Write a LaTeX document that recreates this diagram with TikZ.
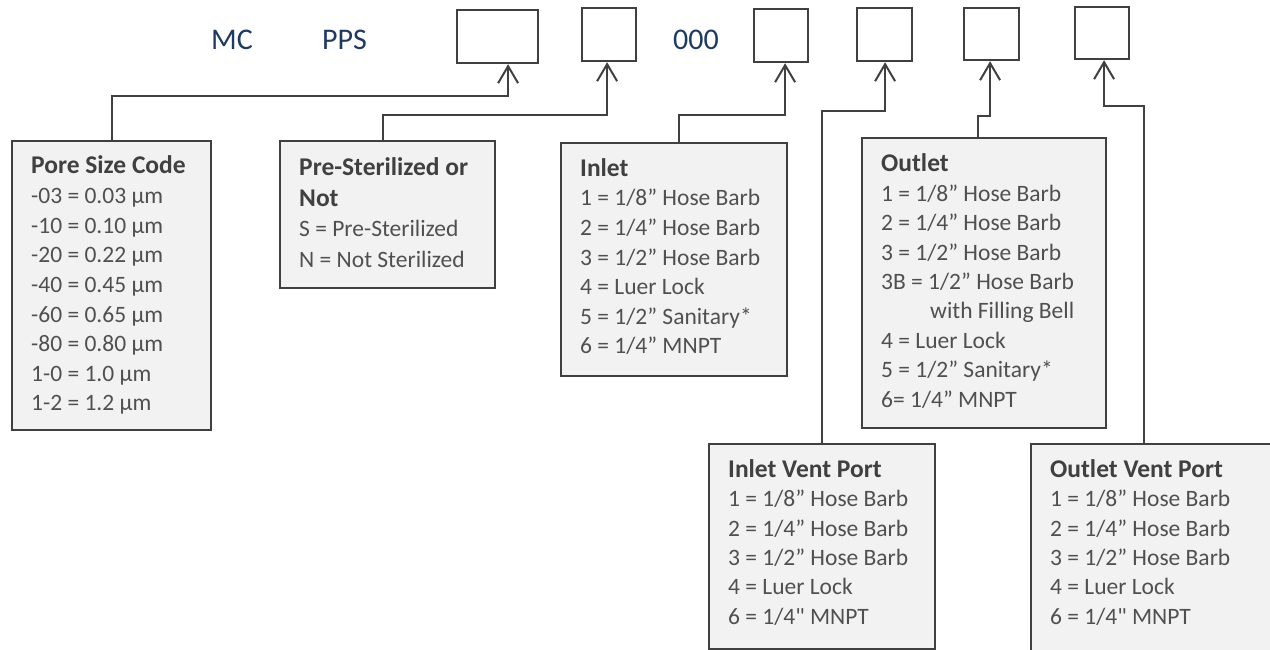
\documentclass[tikz,border=0pt]{standalone}
\usepackage{fontspec}
\setmainfont{Carlito}[Ligatures=TeXOff]
\usetikzlibrary{arrows.meta,calc}
\definecolor{ink}{HTML}{404040}
\definecolor{bodyink}{HTML}{505050}
\definecolor{codeblue}{HTML}{1F3A60}
\definecolor{panel}{HTML}{F2F2F2}

% bold heading line inside a legend
\newcommand\legendhead[1]{{\fontsize{25.5}{30}\selectfont\bfseries\color{ink}#1}}

% #1 box name, #2 first baseline below the top edge, #3 line pitch, #4 lines
\newcommand\legendlines[4]{%
  \foreach \txt [count=\i from 0] in {#4}
    \node[entry] (#1-\i) at ($(#1.north west)+(20,{#2+#3*\i})$) {\txt};}

\begin{document}
\begin{tikzpicture}[x=1pt,y=-1pt,
  slot/.style={draw=ink, line width=2.2pt, fill=white, rectangle, inner sep=0pt, anchor=north west},
  legend/.style={draw=ink, line width=2pt, fill=panel, rectangle, inner sep=0pt, anchor=north west},
  codetext/.style={text=codeblue, font=\fontsize{30}{36}\selectfont, inner sep=0pt, anchor=base west},
  entry/.style={text=bodyink, font=\fontsize{23.5}{28}\selectfont, inner sep=0pt, anchor=base west},
  link/.style={draw=ink, line width=2pt, -{Straight Barb[length=17pt,width=20pt]}}]

\useasboundingbox (0,0) rectangle (1270,650);

% part number fields
\node[codetext] (mc) at (211,50) {MC};
\node[codetext] (pps) at (322,50) {PPS};
\node[codetext] (zeros) at (673,50) {000};

\node[slot, minimum width=81pt, minimum height=53pt] (b1) at (456,9) {};
\node[slot, minimum width=54pt, minimum height=53pt] (b2) at (581,7) {};
\node[slot, minimum width=54pt, minimum height=53pt] (b3) at (753,8) {};
\node[slot, minimum width=55pt, minimum height=53pt] (b4) at (856,7) {};
\node[slot, minimum width=55pt, minimum height=52pt] (b5) at (963,7) {};
\node[slot, minimum width=54pt, minimum height=52pt] (b6) at (1074,6) {};

% option legends
\node[legend, minimum width=199pt, minimum height=289pt] (pore) at (11,140) {};
\legendlines{pore}{34}{29.6}{\legendhead{Pore Size Code}, -03 = 0.03 µm, -10 = 0.10 µm, -20 = 0.22 µm, -40 = 0.45 µm, -60 = 0.65 µm, -80 = 0.80 µm, 1-0 = 1.0 µm, 1-2 = 1.2 µm}

\node[legend, minimum width=215pt, minimum height=147pt] (pre) at (279,140) {};
\legendlines{pre}{35.5}{30.7}{\legendhead{Pre-Sterilized or}, \legendhead{Not}, S = Pre-Sterilized, N = Not Sterilized}

\node[legend, minimum width=226pt, minimum height=233pt] (inlet) at (560,142) {};
\legendlines{inlet}{34.5}{29.5}{\legendhead{Inlet}, 1 = 1/8” Hose Barb, 2 = 1/4” Hose Barb, 3 = 1/2” Hose Barb, 4 = Luer Lock, 5 = 1/2” Sanitary*, 6 = 1/4” MNPT}

\node[legend, minimum width=244pt, minimum height=290pt] (outlet) at (861,137) {};
\legendlines{outlet}{34.8}{29.4}{\legendhead{Outlet}, 1 = 1/8” Hose Barb, 2 = 1/4” Hose Barb, 3 = 1/2” Hose Barb, 3B = 1/2” Hose Barb, \hspace*{49pt}with Filling Bell, 4 = Luer Lock, 5 = 1/2” Sanitary*, 6= 1/4” MNPT}

\node[legend, minimum width=226pt, minimum height=205pt] (ivent) at (708,443) {};
\legendlines{ivent}{34.5}{29.3}{\legendhead{Inlet Vent Port}, 1 = 1/8” Hose Barb, 2 = 1/4” Hose Barb, 3 = 1/2” Hose Barb, 4 = Luer Lock, 6 = 1/4" MNPT}

\node[legend, minimum width=242pt, minimum height=212pt] (ovent) at (1030,443) {};
\legendlines{ovent}{34.5}{29.3}{\legendhead{Outlet Vent Port}, 1 = 1/8” Hose Barb, 2 = 1/4” Hose Barb, 3 = 1/2” Hose Barb, 4 = Luer Lock, 6 = 1/4" MNPT}

% arrow tips under the fields
\coordinate (t1) at ([xshift=10.5]b1.south);
\coordinate (t2) at ([xshift=-2]b2.south);
\coordinate (t3) at ([xshift=4]b3.south);
\coordinate (t4) at ([xshift=0.5]b4.south);
\coordinate (t5) at ([xshift=-1.5]b5.south);
\coordinate (t6) at ([xshift=2]b6.south);

% connectors from each legend to its field
\draw[link] (pore.north) |- ($(t1)+(0,32)$) -- (t1);
\draw[link] ([xshift=-4.5]pre.north) |- ($(t2)+(0,53)$) -- (t2);
\draw[link] ([xshift=5]inlet.north) |- ($(t3)+(0,52)$) -- (t3);
\draw[link] (ivent.north) |- ($(t4)+(0,49)$) -- (t4);
\draw[link] ([xshift=-6]outlet.north) |- ($(t5)+(0,55)$) -- (t5);
\draw[link] ([xshift=-8]ovent.north) |- ($(t6)+(0,46)$) -- (t6);
\end{tikzpicture}
\end{document}
